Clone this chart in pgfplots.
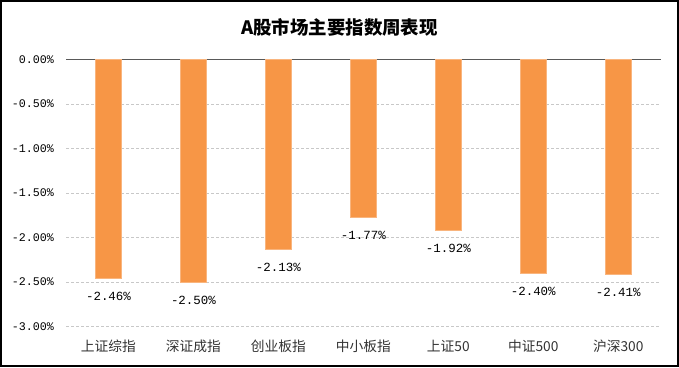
\documentclass[border=0pt]{standalone}
\usepackage{pgfplots}
\pgfplotsset{compat=1.18}
\usepackage{fontspec}
\setmainfont{Liberation Serif}
\newfontfamily\cjk{Noto Sans CJK SC}
\newfontfamily\monof{Liberation Mono}
\definecolor{barorange}{HTML}{F79646}
\definecolor{gridgray}{HTML}{C8C8C8}
\definecolor{zerogray}{HTML}{595959}
\begin{document}
\begin{tikzpicture}[x=1bp,y=1bp]
\useasboundingbox (0,0) rectangle (679,367);
\fill[white] (0,0) rectangle (679,367);
\node[font=\cjk\bfseries\fontsize{18.5}{20}\selectfont] at (339.5,339.5) {A股市场主要指数周表现};
\begin{axis}[
  at={(66bp,40.5bp)}, anchor=south west,
  scale only axis, width=594.7bp, height=267bp,
  /pgf/number format/assume math mode=true,
  xmin=-0.5, xmax=6.5, ymin=-3, ymax=0,
  ybar, bar width=26bp, clip=false,
  axis line style={draw=none}, major tick length=0pt,
  xtick={0,1,2,3,4,5,6},
  xticklabels={上证综指,深证成指,创业板指,中小板指,上证50,中证500,沪深300},
  xticklabel style={anchor=center, yshift=-19.5bp, font=\cjk\fontsize{13.8}{15}\selectfont, text=black!80},
  ytick={0,-0.5,-1,-1.5,-2,-2.5,-3},
  yticklabel={\pgfmathprintnumber[fixed,fixed zerofill,precision=2]{\tick}\%},
  yticklabel style={anchor=east, xshift=-12bp, inner sep=0pt, font=\monof\fontsize{11.7}{13}\selectfont, text=black},
  ymajorgrids, grid style={gridgray, dash pattern=on 3bp off 2bp, line width=0.6bp},
  extra y ticks={0}, extra y tick labels={},
  extra y tick style={grid style={solid, zerogray, line width=0.9bp}},
  nodes near coords={\pgfmathprintnumber[fixed,fixed zerofill,precision=2]{\pgfplotspointmeta}\%},
  nodes near coords style={font=\monof\fontsize{12.5}{14}\selectfont, anchor=center, yshift=-18bp, text=black},
]
\addplot[fill=barorange, draw=barorange!70!white, line width=0.5bp] coordinates {
  (0,-2.46) (1,-2.50) (2,-2.13) (3,-1.77) (4,-1.92) (5,-2.40) (6,-2.41)
};
\end{axis}
\draw[black, line width=1.6bp] (0.8,0.8) rectangle (678.2,366.2);
\end{tikzpicture}
\end{document}
